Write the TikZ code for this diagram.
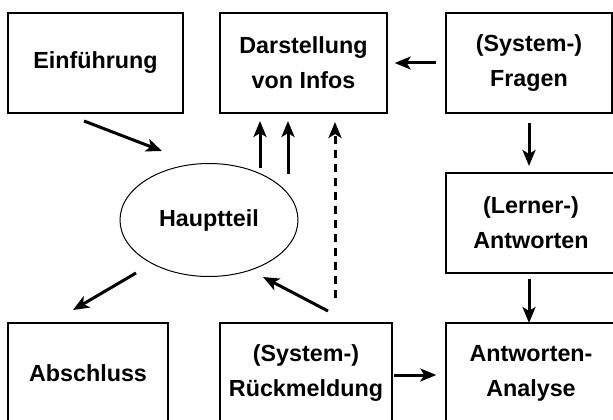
\documentclass[tikz,border=0pt]{standalone}
\usepackage{fontspec}
\setmainfont{Liberation Sans}
\usetikzlibrary{shapes.geometric,arrows.meta}
\tikzset{
  box/.style={draw, line width=1.4pt, inner sep=0pt, align=center,
    font=\bfseries\fontsize{23.3}{35}\selectfont},
  oval/.style={draw, ellipse, line width=1pt, inner sep=0pt,
    font=\bfseries\fontsize{23.3}{35}\selectfont},
  arr/.style={line width=3pt, -{Stealth[length=16pt,width=13pt,inset=4pt]}},
  darr/.style={arr, dash pattern=on 8pt off 6pt}
}
\begin{document}
\begin{tikzpicture}[x=1pt,y=-1pt]
\useasboundingbox (0,0) rectangle (613,420);
\clip (0,0) rectangle (613,420);
\node[box, minimum width=175pt, minimum height=100pt] (ein) at (95.5,63) {Einführung};
\node[box, minimum width=167pt, minimum height=100pt] (dar) at (303.5,63) {Darstellung\\von Infos};
\node[box, minimum width=166pt, minimum height=100pt] (fra) at (529,63) {(System-)\\Fragen};
\node[box, minimum width=170pt, minimum height=100pt] (ler) at (531,223) {(Lerner-)\\Antworten};
\node[box, minimum width=170pt, minimum height=100pt] (ana) at (531,373) {Antworten-\\Analyse};
\node[box, minimum width=160pt, minimum height=100pt] (abs) at (88,373) {Abschluss};
\node[box, minimum width=172pt, minimum height=100pt] (rue) at (306,373) {(System-)\\Rückmeldung};
\node[oval, minimum width=178pt, minimum height=113pt] (hau) at (209,220) {Hauptteil};
% arrow end points
\coordinate (e1) at (84,121);   \coordinate (e2) at (162,151);
\coordinate (u1a) at (260,168); \coordinate (u1b) at (260,121);
\coordinate (u2a) at (288,174); \coordinate (u2b) at (288,121);
\coordinate (d1a) at (335,298); \coordinate (d1b) at (335,122);
\coordinate (h1) at (136,273);  \coordinate (h2) at (73,310);
\coordinate (r1) at (328,311);  \coordinate (r2) at (263,277);
\coordinate (f1) at (529,123);  \coordinate (f2) at (529,166);
\coordinate (l1) at (529,279);  \coordinate (l2) at (529,323);
\draw[arr] (e1) -- (e2);
\draw[arr] (u1a) -- (u1b);
\draw[arr] (u2a) -- (u2b);
\draw[darr] (d1a) -- (d1b);
\draw[arr] (h1) -- (h2);
\draw[arr] (r1) -- (r2);
\draw[arr, shorten <=9pt, shorten >=7pt] (fra.west) -- (dar.east);
\draw[arr] (f1) -- (f2);
\draw[arr] (l1) -- (l2);
\draw[arr, shorten <=1pt, shorten >=9pt] ([yshift=-2pt]rue.east) -- ([yshift=-2pt]rue.east -| ana.west);
\end{tikzpicture}
\end{document}
